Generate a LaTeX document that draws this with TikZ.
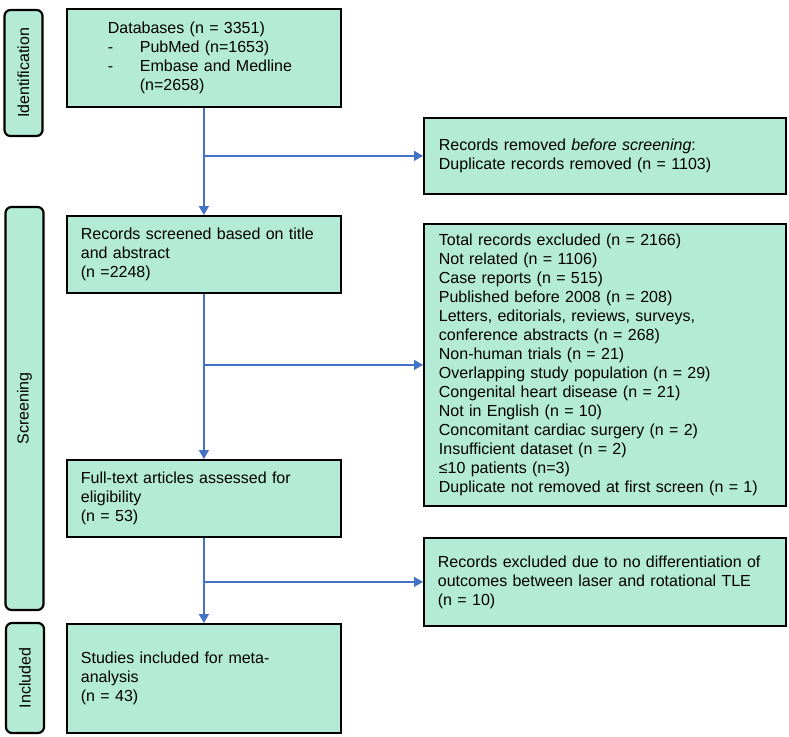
\documentclass[tikz,border=0pt]{standalone}
\usepackage{fontspec}
\setmainfont{Liberation Sans}
\usetikzlibrary{arrows.meta}
\definecolor{boxfill}{RGB}{180,235,214}
\definecolor{flowblue}{RGB}{68,114,196}
\begin{document}
\begin{tikzpicture}[x=1pt,y=-1pt,
  font=\fontsize{16}{19}\selectfont,
  box/.style={draw=black, line width=1.8pt, fill=boxfill, rectangle,
    align=left, anchor=north west, inner ysep=0pt},
  stage/.style={draw=black, line width=2.2pt, fill=boxfill, rounded corners=6pt,
    rotate=90, minimum height=38pt, inner sep=0pt},
  flow/.style={draw=flowblue, line width=1.3pt},
  flowarrow/.style={flow, -{Triangle[length=9pt,width=10pt]}}]
\useasboundingbox (0,0) rectangle (789,736);

% stage labels on the left
\node[stage, minimum width=126pt] (identification) at (23.5,73) {Identification};
\node[stage, minimum width=403pt] (screening) at (24.5,408.5) {Screening};
\node[stage, minimum width=110pt] (included) at (25,678) {Included};

% main column
\node[box, inner xsep=41pt, text width=192pt, minimum height=98pt] (db) at (66,8)
  {Databases (n = 3351)\\
   \makebox[32pt][l]{-}PubMed (n=1653)\\
   \makebox[32pt][l]{-}Embase and Medline\\
   \hspace*{32pt}(n=2658)};
\node[box, inner xsep=14pt, text width=246pt, minimum height=77pt] (scr) at (66,215)
  {Records screened based on title\\ and abstract\\ (n =2248)};
\node[box, inner xsep=14pt, text width=246pt, minimum height=77pt] (full) at (66,459)
  {Full-text articles assessed for\\ eligibility\\ (n = 53)};
\node[box, inner xsep=14pt, text width=246pt, minimum height=109pt] (incl) at (66,623)
  {Studies included for meta-\\ analysis\\ (n = 43)};

% exclusion column
\node[box, inner xsep=15pt, text width=332pt, minimum height=76pt] (rem) at (423,117)
  {Records removed \textit{before screening}:\\ Duplicate records removed (n = 1103)};
\node[box, inner xsep=15pt, text width=332pt, minimum height=282pt] (tot) at (423,223)
  {Total records excluded (n = 2166)\\
   Not related (n = 1106)\\
   Case reports (n = 515)\\
   Published before 2008 (n = 208)\\
   Letters, editorials, reviews, surveys,\\
   conference abstracts (n = 268)\\
   Non-human trials (n = 21)\\
   Overlapping study population (n = 29)\\
   Congenital heart disease (n = 21)\\
   Not in English (n = 10)\\
   Concomitant cardiac surgery (n = 2)\\
   Insufficient dataset (n = 2)\\
   ≤10 patients (n=3)\\
   Duplicate not removed at first screen (n = 1)};
\node[box, inner xsep=14pt, text width=334pt, minimum height=88pt] (exc) at (423,537)
  {Records excluded due to no differentiation of\\
   outcomes between laser and rotational TLE\\
   (n = 10)};

% branch points on the main flow
\coordinate (b1) at (db.south |- rem.west);
\coordinate (b2) at (scr.south |- tot.west);
\coordinate (b3) at (full.south |- exc.west);

% connectors
\draw[flowarrow] (db.south) -- (scr.north);
\draw[flowarrow] (b1) -- (rem.west);
\draw[flowarrow] (scr.south) -- (full.north);
\draw[flowarrow] (b2) -- (tot.west);
\draw[flowarrow] (full.south) -- (incl.north);
\draw[flowarrow] (b3) -- (exc.west);
\end{tikzpicture}
\end{document}
